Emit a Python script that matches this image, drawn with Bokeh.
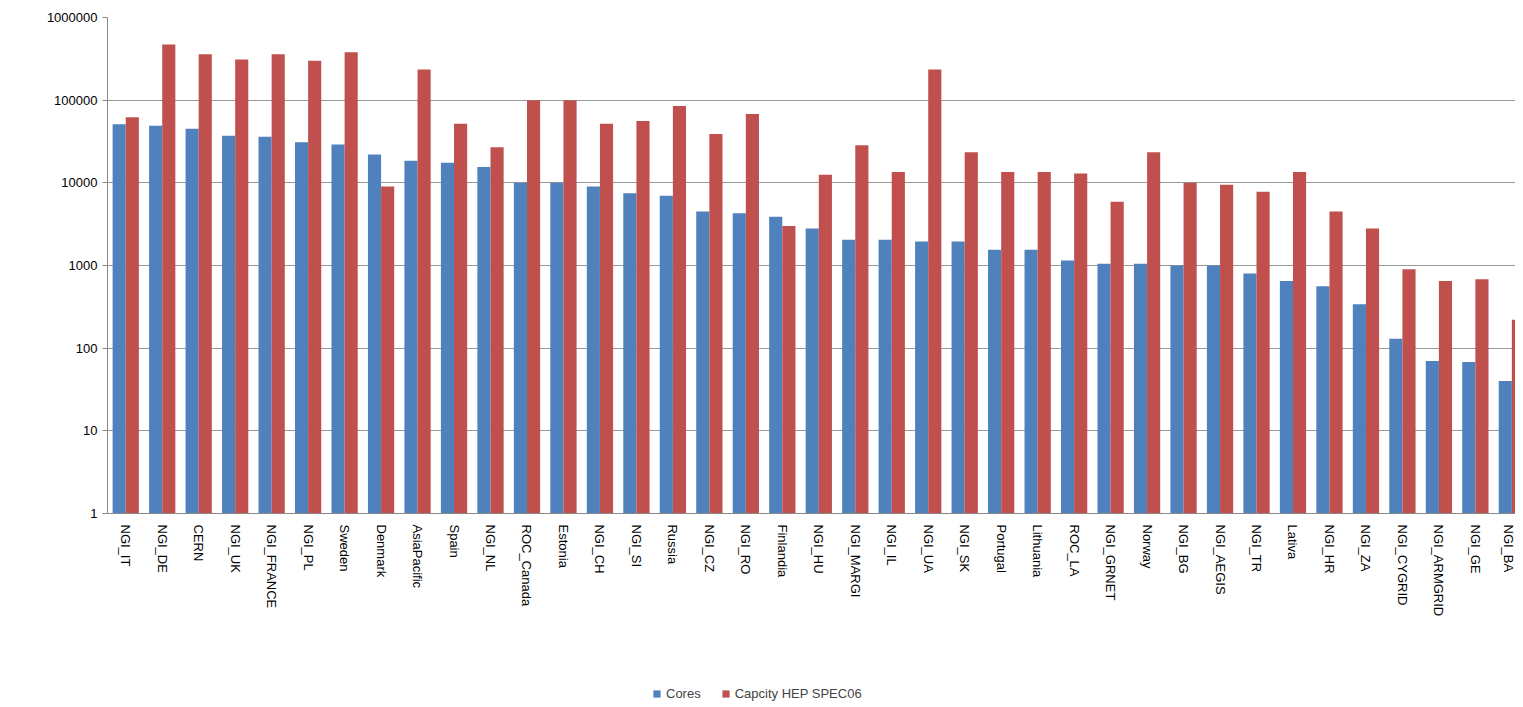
import numpy as np
from bokeh.plotting import figure
from bokeh.models import FixedTicker, Legend, LegendItem, Range1d
from bokeh.layouts import column
from bokeh.embed import file_html
from bokeh.resources import INLINE

categories = ["NGI_IT","NGI_DE","CERN","NGI_UK","NGI_FRANCE","NGI_PL","Sweden","Denmark","AsiaPacific","Spain",
              "NGI_NL","ROC_Canada","Estonia","NGI_CH","NGI_SI","Russia","NGI_CZ","NGI_RO","Finlandia","NGI_HU",
              "NGI_MARGI","NGI_IL","NGI_UA","NGI_SK","Portugal","Lithuania","ROC_LA","NGI_GRNET","Norway","NGI_BG",
              "NGI_AEGIS","NGI_TR","Lativa","NGI_HR","NGI_ZA","NGI_CYGRID","NGI_ARMGRID","NGI_GE","NGI_BA"]
cores = [51000,49000,45000,37000,36000,31000,29000,22000,18500,17500,
         15500,10000,10000,9000,7500,7000,4500,4300,3900,2800,
         2050,2050,1950,1950,1550,1550,1150,1050,1050,1000,
         1000,800,650,560,340,130,70,68,40]
capacity = [62000,470000,360000,310000,360000,300000,380000,9000,235000,52000,
            27000,100000,100000,52000,56000,85000,39000,68000,3000,12500,
            28500,13500,235000,23500,13500,13500,13000,5900,23500,10000,
            9500,7800,13500,4500,2800,900,650,680,220]
y_ticks = [1,10,100,1000,10000,100000,1000000]
BLUE, RED = "#4F81BD", "#C0504D"

n = len(categories)
x = np.arange(n) + 0.5
p = figure(frame_width=1408, frame_height=496, output_backend="svg", toolbar_location=None,
           y_axis_type="log", x_range=Range1d(0, 38.6), y_range=Range1d(1, 1e6),
           min_border_left=107, min_border_right=0, min_border_top=17, min_border_bottom=135)
w = 0.36
p.vbar(x=x - w/2, top=cores, bottom=1, width=w, fill_color=BLUE, line_color=None)
p.vbar(x=x + w/2, top=capacity, bottom=1, width=w, fill_color=RED, line_color=None)

p.xaxis.ticker = FixedTicker(ticks=list(x))
p.xaxis.major_label_overrides = {float(v): c for v, c in zip(x, categories)}
p.xaxis.major_label_orientation = -np.pi/2
p.xaxis.major_tick_line_color = None
p.xaxis.minor_tick_line_color = None
p.xaxis.major_label_text_font = "Liberation Sans"
p.xaxis.major_label_text_font_size = "13px"
p.xaxis.major_label_text_color = "#000000"
p.xaxis.axis_line_color = "#888888"
p.xgrid.grid_line_color = None

p.yaxis.ticker = FixedTicker(ticks=y_ticks)
p.yaxis.major_label_overrides = {float(v): str(v) for v in y_ticks}
p.yaxis.major_label_text_font = "Liberation Sans"
p.yaxis.major_label_text_font_size = "13px"
p.yaxis.major_label_text_color = "#000000"
p.yaxis.minor_tick_line_color = None
p.yaxis.major_tick_line_color = "#888888"
p.yaxis.major_tick_in = 0
p.yaxis.major_tick_out = 5
p.yaxis.axis_line_color = "#888888"
p.ygrid.grid_line_color = "#999999"
p.outline_line_color = None

# legend strip
lf = figure(frame_width=1515, frame_height=55, output_backend="svg", toolbar_location=None,
            x_range=Range1d(0, 1), y_range=Range1d(0, 1),
            min_border=0, min_border_left=0, min_border_right=0, min_border_top=0, min_border_bottom=0)
lf.axis.visible = False
lf.grid.visible = False
lf.outline_line_color = None
g1 = lf.rect(x=[-10], y=[-10], width=0.1, height=0.1, fill_color=BLUE, line_color=None)
g2 = lf.rect(x=[-10], y=[-10], width=0.1, height=0.1, fill_color=RED, line_color=None)
legend = Legend(items=[LegendItem(label="Cores", renderers=[g1]),
                       LegendItem(label="Capcity HEP SPEC06", renderers=[g2])],
                orientation="horizontal", location=(652, 2),
                label_text_font="Liberation Sans", label_text_font_size="13px",
                glyph_width=9, glyph_height=9, spacing=20, border_line_color=None,
                background_fill_alpha=0, margin=0, padding=4)
lf.add_layout(legend, "center")

open("out.html", "w").write(file_html(column(p, lf, spacing=0), INLINE))
